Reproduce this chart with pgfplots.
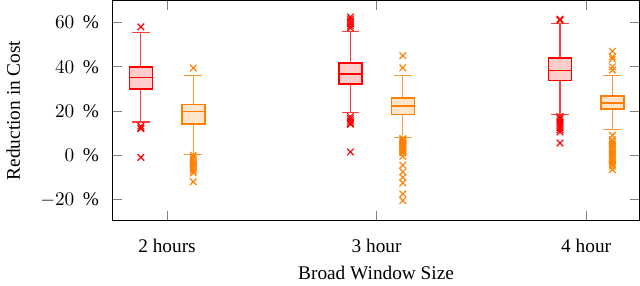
\documentclass[border=0pt]{standalone}
\usepackage{fontspec}
\setmainfont{Liberation Serif}
\usepackage{pgfplots}
\pgfplotsset{compat=1.18}
\usepgfplotslibrary{statistics}
\pgfplotsset{
  redbox/.style={red, solid, semithick, fill=red!20, mark=x, mark size=2.4pt,
    mark options={red, solid, fill=none, semithick},
    boxplot/every box/.style={draw=red, fill=red!20, thick},
    boxplot/every median/.style={red, thick},
    boxplot/every whisker/.style={red!75, semithick}},
  orangebox/.style={orange, solid, semithick, fill=orange!20, mark=x, mark size=2.4pt,
    mark options={orange, solid, fill=none, semithick},
    boxplot/every box/.style={draw=orange, fill=orange!20, thick},
    boxplot/every median/.style={orange, thick},
    boxplot/every whisker/.style={orange!80, semithick}},
}
\begin{document}
\begin{tikzpicture}
\begin{axis}[
  scale only axis,
  width=273pt, height=114pt,
  xmin=-0.26, xmax=2.255,
  ymin=-29.5, ymax=70,
  xtick={0,1,2},
  xticklabels={2 hours,3 hour,4 hour},
  xticklabel style={yshift=-6pt},
  ytick={-20,0,20,40,60},
  yticklabel={$\pgfmathprintnumber{\tick}\mskip8mu\%$},
  yticklabel style={xshift=-3.5pt},
  ylabel style={yshift=3.5pt},
  tick style={gray, thin},
  major tick length=5pt,
  xlabel={Broad Window Size},
  ylabel={Reduction in Cost},
  boxplot/draw direction=y,
  boxplot/box extend=0.11,
  boxplot/whisker extend=0.085,
]
% 2 hours
\addplot[redbox, boxplot prepared={draw position=-0.125,
  lower whisker=15, lower quartile=30,
  median=35.2, upper quartile=40, upper whisker=55.6}]
  table[row sep=\\, y index=0] {58\\ 13.2\\ 12.4\\ 12\\ -1\\};
\addplot[orangebox, boxplot prepared={draw position=0.125,
  lower whisker=0.3, lower quartile=14,
  median=19.7, upper quartile=23, upper whisker=36.2}]
  table[row sep=\\, y index=0] {39.4\\ 0\\ -1\\ -2\\ -3\\ -4\\ -5\\ -6\\ -7\\ -8\\ -12\\};
% 3 hour
\addplot[redbox, boxplot prepared={draw position=0.875,
  lower whisker=19.5, lower quartile=32.1,
  median=36.8, upper quartile=41.8, upper whisker=56}]
  table[row sep=\\, y index=0] {62.5\\ 61.5\\ 60.5\\ 59.5\\ 58.5\\ 57.5\\ 17.5\\ 16.5\\ 15.5\\ 14.5\\ 14\\ 1.5\\};
\addplot[orangebox, boxplot prepared={draw position=1.125,
  lower whisker=7.9, lower quartile=18.5,
  median=22.3, upper quartile=25.9, upper whisker=35.9}]
  table[row sep=\\, y index=0] {45\\ 39.5\\ 7.5\\ 7\\ 6.5\\ 6\\ 5.5\\ 5\\ 4.5\\ 4\\ 3.5\\ 3\\ 2.5\\ 2\\ 1.5\\ 1\\ -0.5\\ -4.5\\ -7.5\\ -10\\ -12.5\\ -17.5\\ -20.5\\};
% 4 hour
\addplot[redbox, boxplot prepared={draw position=1.875,
  lower whisker=18.6, lower quartile=33.8,
  median=38.2, upper quartile=44, upper whisker=59.4}]
  table[row sep=\\, y index=0] {61.5\\ 61\\ 17.5\\ 16.5\\ 15.5\\ 14.5\\ 13.5\\ 12.5\\ 11.5\\ 10.5\\ 5.5\\};
\addplot[orangebox, boxplot prepared={draw position=2.125,
  lower whisker=11.5, lower quartile=20.8,
  median=23.6, upper quartile=26.7, upper whisker=35.9}]
  table[row sep=\\, y index=0] {47\\ 44.5\\ 43.5\\ 40\\ 38.5\\ 9\\ 7\\ 6\\ 5\\ 4\\ 3\\ 2\\ 1\\ 0\\ -1\\ -2\\ -3\\ -4\\ -5\\ -6.5\\};
\end{axis}
\end{tikzpicture}
\end{document}
